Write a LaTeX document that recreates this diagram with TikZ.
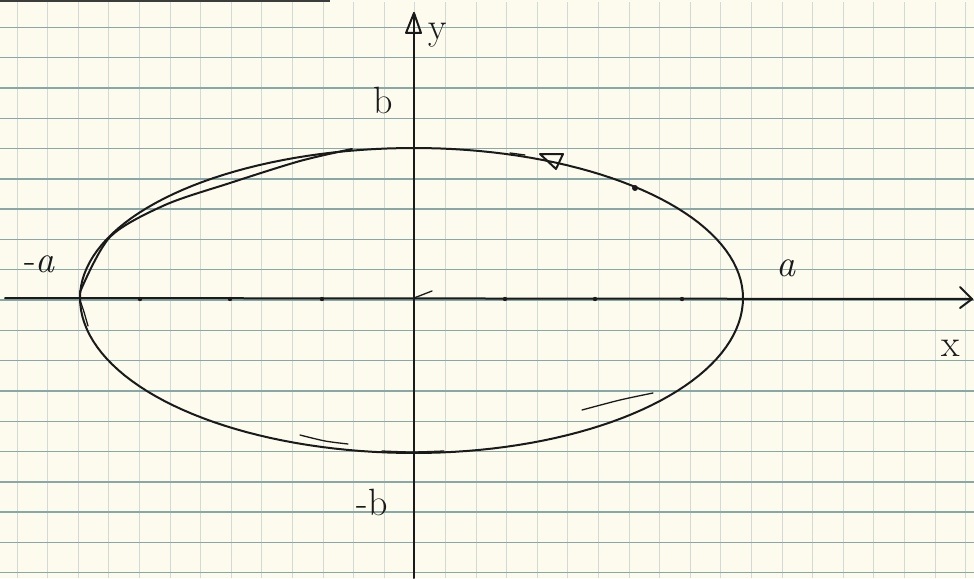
\documentclass[tikz,border=0pt]{standalone}
\usepackage{fontspec}
\usepackage{tikz}
\definecolor{paper}{HTML}{FDFBEE}
\definecolor{hgrid}{HTML}{88A8A8}
\definecolor{vgrid}{HTML}{D3DAD3}
\definecolor{ink}{HTML}{1A1A1A}
\tikzset{
  pen/.style={draw=ink, line width=2pt, line cap=round, line join=round},
  thinpen/.style={draw=ink, line width=1.3pt, line cap=round, line join=round},
  lbl/.style={text=ink, font=\fontsize{38}{42}\selectfont, inner sep=0pt},
}
\begin{document}
\begin{tikzpicture}[x=1pt,y=-1pt]
\useasboundingbox (0,0) rectangle (974,578);
\fill[paper] (0,0) rectangle (974,578);
% paper edge at top
\fill[ink!85] (0,0) rectangle (330,2.5);
% grid
\foreach \k in {0,...,31} {\draw[vgrid, line width=1pt] ({17+30.6*\k},2.5) -- ({17+30.6*\k},578);}
\foreach \k in {0,...,18} {\draw[hgrid, line width=1.4pt] (0,{27.3+30.3*\k}) -- (974,{27.3+30.3*\k});}
% named points
\coordinate (O) at (414,298);
\coordinate (xs) at (5,298);
\coordinate (xe) at (972,299);
\coordinate (ys) at (414,578);
\coordinate (ye) at (414,13);
% axes
\draw[pen] (xs) -- (xe);
\draw[pen] (960,287) -- (xe) -- (960,308);
\draw[pen] (ys) -- (ye);
\draw[pen] (406,33) -- (ye) -- (421,33) -- (406,33);
\draw[thinpen] (O) -- (432,291);
% ticks on x-axis
\foreach \t in {140,230,322,505,595,682} {\fill[ink] (\t,299) circle (2.2pt);}
% ellipse (hand drawn, four quadrants)
\draw[pen] plot[domain=0:90, samples=40] ({414+329*cos(\x)},{298-150*sin(\x)});
\draw[pen] plot[domain=90:180, samples=40] ({414+334*cos(\x)},{298-150*sin(\x)});
\draw[pen] plot[domain=180:270, samples=40] ({414+334*cos(\x)},{298-155*sin(\x)});
\draw[pen] plot[domain=270:360, samples=40] ({414+329*cos(\x)},{298-155*sin(\x)});
% sketch double strokes
\draw[pen] plot[smooth] coordinates {(80,292) (110,237) (165,205) (230,183) (300,161) (352,149)};
\draw[thinpen] plot[smooth] coordinates {(80,300) (84,312) (88,326)};
\draw[thinpen] plot[smooth] coordinates {(300,435) (325,441) (348,444)};
\draw[thinpen] plot[smooth] coordinates {(382,451) (412,452) (444,451)};
\draw[thinpen] plot[smooth] coordinates {(582,410) (620,400) (653,393)};
\draw[thinpen] (510,153) -- (525,155);
% direction arrow and point on ellipse
\draw[pen] (540,154) -- (563,154) -- (556,169) -- cycle;
\fill[ink] (635,188) circle (3pt);
% labels
\node[lbl] (lb) at (383,100) {b};
\node[lbl] (lmb) at (372,502) {-b};
\node[lbl] (lma) at (40,264) {-\textit{a}};
\node[lbl] (la) at (786,268) {\textit{a}};
\node[lbl] (lx) at (951,348) {x};
\node[lbl] (ly) at (438,35) {y};
\end{tikzpicture}
\end{document}
